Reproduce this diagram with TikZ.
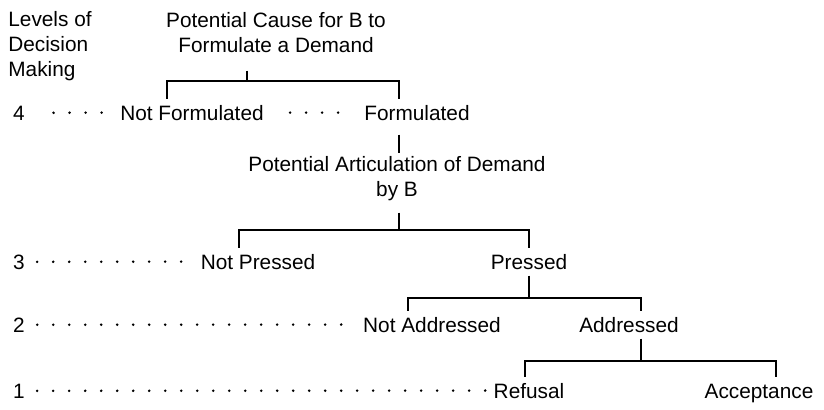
\documentclass[tikz,border=0pt]{standalone}
\usepackage{fontspec}
\setmainfont{Liberation Sans}
\begin{document}
\begin{tikzpicture}[
  x=0.5pt, y=-0.5pt,
  font=\fontsize{10.4}{12.5}\selectfont,
  lbl/.style={anchor=base, inner sep=3pt},
  multi/.style={lbl, align=center},
  link/.style={line width=0.9pt, draw=black},
  leader/.style={line width=1.4pt, line cap=round, dash pattern=on 0pt off 8pt}
]
\useasboundingbox (0,0) rectangle (824,409);

% Level column
\node[lbl, align=left, anchor=base west] (levels) at (2,76) {Levels of\\Decision\\Making};
\node[lbl] (n4) at (19,120) {4};
\node[lbl] (n3) at (19,269) {3};
\node[lbl] (n2) at (19,332) {2};
\node[lbl] (n1) at (19,398) {1};

% Decision tree
\node[multi] (cause) at (276,52) {Potential Cause for B to\\Formulate a Demand};
\node[lbl] (notform) at (192,120) {Not Formulated};
\node[lbl] (form) at (417,120) {Formulated};
\node[multi] (artic) at (397,196) {Potential Articulation of Demand\\by B};
\node[lbl] (notpress) at (258,269) {Not Pressed};
\node[lbl] (press) at (529,269) {Pressed};
\node[lbl] (notaddr) at (432,332) {Not Addressed};
\node[lbl] (addr) at (629,332) {Addressed};
\node[lbl] (refuse) at (529,398) {Refusal};
\node[lbl] (accept) at (759,398) {Acceptance};

% Bracket corners
\coordinate (j4) at (247,81);
\coordinate (d4a) at (167,81);
\coordinate (d4b) at (399,81);
\coordinate (d3a) at (239,230);
\coordinate (d3b) at (529,230);
\coordinate (d2a) at (408,298);
\coordinate (d2b) at (641,298);
\coordinate (d1a) at (525,361);
\coordinate (d1b) at (776,361);

% Brackets
\draw[link] ([yshift=-6pt]cause.south -| j4) -- (j4);
\draw[link] (notform.north -| d4a) -- (d4a) -- (d4b) -- (form.north -| d4b);
\draw[link] ([yshift=-4pt]form.south -| d4b) -- ([yshift=-1.5pt]artic.north -| d4b);
\draw[link] ([yshift=-3pt]artic.south -| d4b) -- (d4b |- d3a);
\draw[link] (notpress.north -| d3a) -- (d3a) -- (d3b) -- (press.north);
\draw[link] (press.south) -- (press.south |- d2a);
\draw[link] (notaddr.north -| d2a) -- (d2a) -- (d2b) -- (addr.north -| d2b);
\draw[link] (addr.south -| d2b) -- (d2b |- d1a);
\draw[link] (refuse.north -| d1a) -- (d1a) -- (d1b) -- (accept.north -| d1b);

% Dotted leaders
\draw[leader, shorten <=11.2pt] (n4.east) -- (notform.west);
\draw[leader, shorten <=10pt, shorten >=8pt] (notform.east) -- (form.west);
\draw[leader, shorten <=3pt, shorten >=2pt] (n3.east) -- (notpress.west);
\draw[leader, shorten <=3pt, shorten >=2pt] (n2.east) -- (notaddr.west);
\draw[leader, shorten <=3pt] (n1.east) -- (refuse.west);

\end{tikzpicture}
\end{document}
